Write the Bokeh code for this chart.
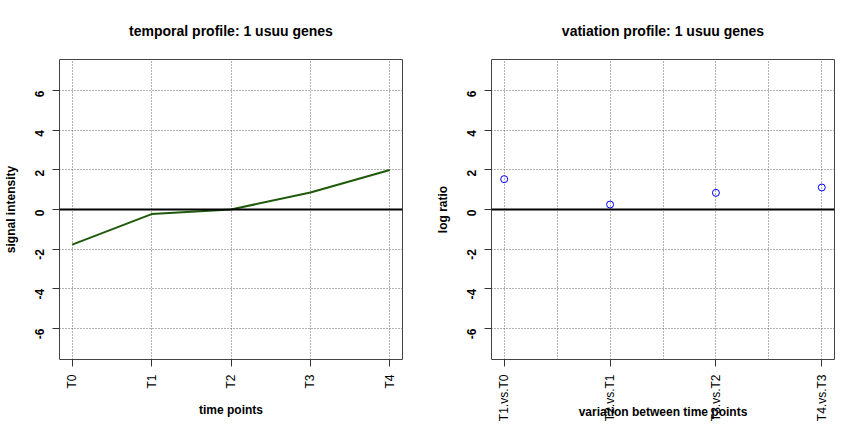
import math
from bokeh.plotting import figure
from bokeh.layouts import row
from bokeh.models import FixedTicker, Range1d, Span, Title
from bokeh.embed import file_html
from bokeh.resources import INLINE

# data
time_points = ["T0", "T1", "T2", "T3", "T4"]
signal = [-1.77, -0.23, 0.0, 0.86, 1.99]
comparisons = ["T1.vs.T0", "T2.vs.T1", "T3.vs.T2", "T4.vs.T3"]
log_ratio = [1.53, 0.25, 0.84, 1.11]
y_ticks = [-6, -4, -2, 0, 2, 4, 6]

FONT = "Liberation Sans"


def make_fig(width, left, right, title, xlab, ylab, x_range, xlab_standoff):
    p = figure(width=width, height=416, frame_width=343, frame_height=300,
               min_border_left=left, min_border_right=right,
               min_border_top=59, min_border_bottom=57,
               x_range=x_range, y_range=Range1d(-7.56, 7.56),
               output_backend="svg", toolbar_location=None,
               background_fill_color="white", border_fill_color="white")
    p.title = Title(text=title, align="center", text_font=FONT,
                    text_font_size="14px", text_font_style="bold",
                    text_color="black", standoff=41)
    p.outline_line_color = "#444444"
    p.outline_line_width = 1
    for ax in (p.xaxis[0], p.yaxis[0]):
        ax.axis_line_color = None
        ax.major_tick_out = 7
        ax.major_tick_in = 0
        ax.minor_tick_out = 0
        ax.minor_tick_in = 0
        ax.major_tick_line_color = "#333333"
        ax.major_label_standoff = 8
        ax.major_label_text_font = FONT
        ax.major_label_text_font_size = "12px"
        ax.major_label_text_color = "black"
        ax.major_label_orientation = math.pi / 2
        ax.axis_label_text_font = FONT
        ax.axis_label_text_font_size = "12px"
        ax.axis_label_text_font_style = "bold"
        ax.axis_label_text_color = "black"
    p.xaxis.axis_label = xlab
    p.yaxis.axis_label = ylab
    p.yaxis.ticker = FixedTicker(ticks=y_ticks)
    p.yaxis.major_label_overrides = {t: str(t) for t in y_ticks}
    p.yaxis.major_label_text_font_style = "bold"
    p.yaxis.major_label_standoff = 13
    p.yaxis.axis_label_standoff = 10
    p.xaxis.axis_label_standoff = xlab_standoff
    p.ygrid.ticker = FixedTicker(ticks=[t for t in y_ticks if t != 0])
    for g in (p.xgrid[0], p.ygrid[0]):
        g.grid_line_color = "#666666"
        g.grid_line_dash = "1 2"
        g.grid_line_width = 1
    p.add_layout(Span(location=0, dimension="width", line_color="black",
                      line_width=2))
    return p


# left panel
x1 = list(range(len(time_points)))
p1 = make_fig(432, 59, 30, "temporal profile: 1 usuu genes", "time points",
              "signal intensity", Range1d(-0.16, len(time_points) - 1 + 0.16), 11)
p1.xaxis.ticker = FixedTicker(ticks=x1)
p1.xaxis.major_label_overrides = {i: t for i, t in enumerate(time_points)}
p1.xgrid.ticker = FixedTicker(ticks=x1)
p1.line(x1, signal, line_color="#1f5a0a", line_width=2)

# right panel
x2 = list(range(1, len(comparisons) + 1))
p2 = make_fig(432, 59, 30, "vatiation profile: 1 usuu genes",
              "variation between time points", "log ratio",
              Range1d(1 - 0.12, len(comparisons) + 0.12), -19)
p2.xaxis.ticker = FixedTicker(ticks=x2)
p2.xaxis.major_label_overrides = {i: t for i, t in zip(x2, comparisons)}
p2.xgrid.ticker = FixedTicker(ticks=[1, 1.5, 2, 2.5, 3, 3.5, 4])
p2.scatter(x2, log_ratio, marker="circle", size=7, fill_color=None,
           line_color="blue", line_width=1)

layout = row(p1, p2)
open("out.html", "w").write(file_html(layout, INLINE))
